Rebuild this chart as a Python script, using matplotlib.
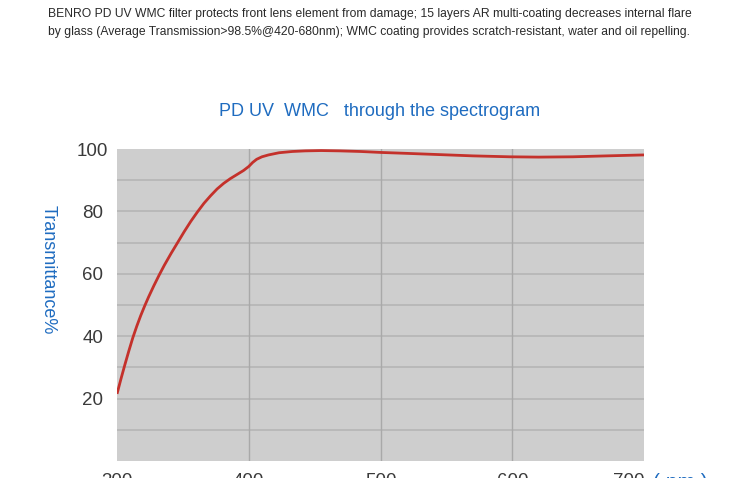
import matplotlib
matplotlib.use("Agg")
import matplotlib.pyplot as plt
from matplotlib.font_manager import fontManager

# ---- data ----
wavelength = [300, 303, 306, 309, 312, 315, 318, 321, 324, 328, 332, 336, 341, 346, 351,
              356, 361, 366, 371, 376, 381, 386, 391, 396, 400, 403, 406, 410, 415, 423,
              433, 443, 455, 469, 485, 500, 520, 545, 570, 598, 620, 646, 672, 700]
transmittance = [21.5, 26.3, 30.9, 35.3, 39.5, 43.2, 46.6, 49.7, 52.6, 56.2, 59.6, 62.8, 66.5,
                 70.0, 73.5, 76.8, 79.8, 82.6, 85.0, 87.2, 89.0, 90.5, 91.8, 93.1, 94.4, 95.7,
                 96.7, 97.5, 98.1, 98.8, 99.2, 99.4, 99.5, 99.4, 99.2, 98.9, 98.6, 98.2, 97.8,
                 97.5, 97.4, 97.5, 97.8, 98.1]
x_ticks = [300, 400, 500, 600, 700]
x_tick_labels = ["300", "400", "500", "600", "700"]
y_ticks = [20, 40, 60, 80, 100]
y_tick_labels = ["20", "40", "60", "80", "100"]
title = "PD UV  WMC   through the spectrogram"
y_label = "Transmittance%"
x_unit = "( nm )"
intro_lines = [
    "BENRO PD UV WMC filter protects front lens element from damage; 15 layers AR multi-coating decreases internal flare",
    "by glass (Average Transmission>98.5%@420-680nm); WMC coating provides scratch-resistant, water and oil repelling.",
]

names = {f.name for f in fontManager.ttflist}
narrow = "Liberation Sans Narrow" if "Liberation Sans Narrow" in names else "Liberation Sans"
plt.rcParams['font.family'] = ['Liberation Sans', 'DejaVu Sans']

BLUE = "#1f6cc0"
fig = plt.figure(figsize=(7.5, 4.78), dpi=100)
fig.patch.set_facecolor("white")

ax = fig.add_axes([117/750, 1-461/478, (644-117)/750, (461-149)/478])
ax.set_facecolor("#cecece")
ax.set_xlim(300, 700)
ax.set_ylim(0, 100)
for s in ax.spines.values():
    s.set_visible(False)

# grid
for yv in range(10, 100, 10):
    ax.axhline(yv, color="#b3b3b3", lw=1.1, zorder=1)
for xv in [400, 500, 600]:
    ax.axvline(xv, color="#a9a9a9", lw=1.0, zorder=1)

ax.plot(wavelength, transmittance, color="#c4312b", lw=2.0, zorder=3,
        solid_capstyle="butt")

ax.set_xticks(x_ticks)
ax.set_xticklabels(x_tick_labels, fontsize=13.5, color="#3a3a3a")
ax.set_yticks(y_ticks)
ax.set_yticklabels(y_tick_labels, fontsize=13.5, color="#3a3a3a")
ax.tick_params(axis="both", length=0)
ax.tick_params(axis="x", pad=8.6)
ax.tick_params(axis="y", pad=17.5)
for lab in ax.get_yticklabels():
    lab.set_horizontalalignment("center")
ax.get_xticklabels()[-1].set_horizontalalignment("right")

ax.annotate(x_unit, xy=(1, 0), xycoords="axes fraction", xytext=(6.5, -8.6),
            textcoords="offset points", ha="left", va="top", fontsize=15, color=BLUE)

fig.text(380/750, 1-112/478, title, ha="center", va="center", fontsize=13, color=BLUE)
fig.text(48/750, 1-270/478, y_label, ha="center", va="center", rotation=-90,
         fontsize=13, color=BLUE)

t1 = fig.text(48/750, 1-14/478, intro_lines[0], ha="left", va="center", fontsize=10,
              color="#2a2a2a", family=[narrow, 'DejaVu Sans'])
t2 = fig.text(48/750, 1-32/478, intro_lines[1], ha="left", va="center", fontsize=10,
              color="#2a2a2a", family=[narrow, 'DejaVu Sans'])

# fit the intro lines to the reference width (about 644 px)
fig.canvas.draw()
r = fig.canvas.get_renderer()
w = t1.get_window_extent(r).width
fs = 10 * 644.0 / w
t1.set_fontsize(fs)
t2.set_fontsize(fs)

fig.savefig("out.png", dpi=100)
